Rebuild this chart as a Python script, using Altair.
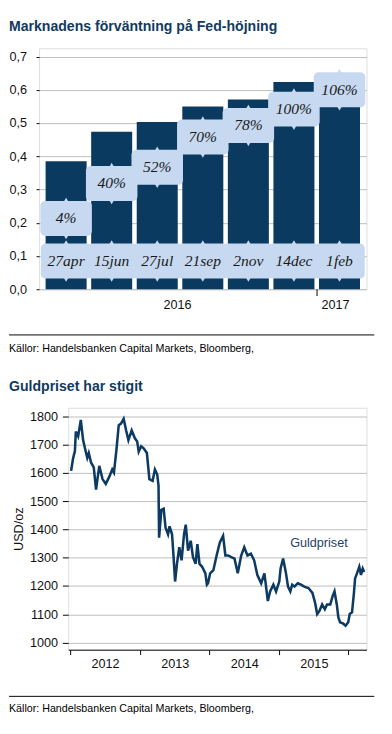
import altair as alt
import pandas as pd

# ---------------- data: Fed hike expectations ----------------
meetings = ["27apr", "15jun", "27jul", "21sep", "2nov", "14dec", "1feb"]
expected_rate = [0.385, 0.474, 0.503, 0.550, 0.571, 0.624, 0.645]
hike_prob = ["4%", "40%", "52%", "70%", "78%", "100%", "106%"]
prob_label_level = [0.213, 0.318, 0.367, 0.458, 0.493, 0.542, 0.600]
date_label_level = 0.085
rate_ticks = [0.0, 0.1, 0.2, 0.3, 0.4, 0.5, 0.6, 0.7]
rate_domain = [0.0, 0.725]

# ---------------- data: gold price ----------------
gold_dates = [
    "2012-01-06", "2012-01-16", "2012-01-26", "2012-01-31", "2012-02-12", "2012-02-26",
    "2012-03-09", "2012-03-21", "2012-03-31", "2012-04-08", "2012-04-20", "2012-05-04",
    "2012-05-16", "2012-06-02", "2012-06-19", "2012-07-06", "2012-07-23", "2012-08-09",
    "2012-08-18", "2012-08-31", "2012-09-12", "2012-09-24", "2012-10-08", "2012-10-21",
    "2012-11-02", "2012-11-19", "2012-12-06", "2012-12-18", "2012-12-26", "2013-01-08",
    "2013-01-21", "2013-02-07", "2013-02-20", "2013-03-09", "2013-03-21", "2013-04-02",
    "2013-04-09", "2013-04-12", "2013-04-24", "2013-05-06", "2013-05-16", "2013-05-29",
    "2013-06-06", "2013-06-19", "2013-06-26", "2013-07-05", "2013-07-15", "2013-07-27",
    "2013-08-08", "2013-08-21", "2013-08-30", "2013-09-11", "2013-09-25", "2013-10-07",
    "2013-10-21", "2013-10-30", "2013-11-10", "2013-11-24", "2013-12-11", "2013-12-19",
    "2013-12-25", "2014-01-05", "2014-01-22", "2014-02-08", "2014-02-25", "2014-03-14",
    "2014-03-26", "2014-04-09", "2014-04-26", "2014-05-13", "2014-05-30", "2014-06-17",
    "2014-07-03", "2014-07-20", "2014-08-07", "2014-08-24", "2014-09-10", "2014-09-30",
    "2014-10-17", "2014-11-04", "2014-11-16", "2014-12-03", "2014-12-17", "2015-01-03",
    "2015-01-10", "2015-01-23", "2015-02-06", "2015-02-18", "2015-03-02", "2015-03-12",
    "2015-03-24", "2015-04-10", "2015-04-27", "2015-05-14", "2015-06-05", "2015-06-26",
    "2015-07-10", "2015-07-21", "2015-08-02", "2015-08-16", "2015-08-30", "2015-09-11",
    "2015-09-28", "2015-10-10", "2015-10-20", "2015-11-01", "2015-11-09", "2015-11-18",
    "2015-12-05", "2015-12-17", "2015-12-31", "2016-01-08", "2016-01-20", "2016-01-30",
    "2016-02-05", "2016-02-15", "2016-02-27", "2016-03-07", "2016-03-16", "2016-03-24",
]
gold_price = [
    1607, 1650, 1677, 1746, 1729, 1787,
    1716, 1681, 1653, 1670, 1636, 1619,
    1541, 1625, 1578, 1561, 1584, 1612,
    1601, 1681, 1768, 1774, 1791, 1750,
    1716, 1750, 1722, 1711, 1675, 1694,
    1687, 1670, 1578, 1572, 1612, 1595,
    1555, 1371, 1469, 1473, 1406, 1383,
    1411, 1383, 1314, 1216, 1279, 1337,
    1291, 1383, 1417, 1325, 1360, 1302,
    1279, 1348, 1279, 1268, 1245, 1205,
    1210, 1245, 1256, 1308, 1354, 1377,
    1308, 1308, 1302, 1297, 1245, 1308,
    1337, 1308, 1314, 1291, 1239, 1210,
    1245, 1147, 1181, 1205, 1181, 1216,
    1262, 1297, 1250, 1198, 1181, 1205,
    1198, 1210, 1205, 1198, 1193, 1176,
    1141, 1101, 1112, 1135, 1118, 1135,
    1135, 1164, 1181, 1135, 1090, 1072,
    1067, 1060, 1072, 1101, 1107, 1176,
    1227, 1245, 1268, 1239, 1262, 1250,
]
gold_ticks = [1000, 1100, 1200, 1300, 1400, 1500, 1600, 1700, 1800]
gold_domain = [975, 1830]
gold_years = [2012, 2013, 2014, 2015, 2016]

title1 = "Marknadens förväntning på Fed-höjning"
title2 = "Guldpriset har stigit"
source = "Källor: Handelsbanken Capital Markets, Bloomberg,"
series_name = "Guldpriset"

# ---------------- styles ----------------
NAVY = "#0b3a60"
BOX = "#c6d9f1"
TITLE_C = "#123a5f"
GRID = "#bdbdbd"
SANS = "Liberation Sans"
SERIF = "Liberation Serif"

W1, H1 = 337, 248
W2, H2 = 307, 249

bar_df = pd.DataFrame({
    "meeting": meetings,
    "rate": expected_rate,
    "prob": hike_prob,
    "plev": prob_label_level,
})
one = pd.DataFrame({"k": [0]})


def band_x(field, band_pos=None):
    kw = {}
    if band_pos is not None:
        kw["bandPosition"] = band_pos
    return alt.X(f"{field}:N", sort=meetings,
                 scale=alt.Scale(paddingInner=0.1, paddingOuter=0.143), axis=None, **kw)


xband = band_x("meeting")
yscale1 = alt.Scale(domain=rate_domain, nice=False)


def rate_axis():
    return alt.Axis(values=rate_ticks,
                    labelExpr="replace(format(datum.value, '.1f'), '.', ',')",
                    labelOverlap=False, labelFlush=False,
                    tickSize=3, labelPadding=10, grid=True, gridColor=GRID,
                    domain=False, labelFontSize=13, labelColor="#111",
                    labelFont=SANS, tickColor="#000", title=None)


def yq(field):
    return alt.Y(f"{field}:Q", scale=yscale1, axis=rate_axis(), title=None)


def ydatum():
    return alt.Y(datum=date_label_level, scale=yscale1, axis=rate_axis(), title=None)


base1 = alt.Chart(bar_df)

bars = base1.mark_bar(color=NAVY).encode(x=xband, y=yq("rate"))

prob_box = base1.mark_rect(width=53, height=36, cornerRadius=5, color=BOX).encode(
    x=xband, y=yq("plev"))
prob_tri_up = base1.mark_point(shape="triangle-up", filled=True, size=30, color=BOX, opacity=1).encode(
    x=xband, y=yq("plev"), yOffset=alt.value(-19))
prob_tri_dn = base1.mark_point(shape="triangle-down", filled=True, size=30, color=BOX, opacity=1).encode(
    x=xband, y=yq("plev"), yOffset=alt.value(19))
prob_text = base1.mark_text(font=SERIF, fontStyle="italic", fontSize=16, color="#1a1a1a").encode(
    x=xband, y=yq("plev"), text="prob:N")

date_box = base1.mark_rect(width=52, height=36, cornerRadius=5, color=BOX).encode(
    x=xband, y=ydatum())
date_tri_up = base1.mark_point(shape="triangle-up", filled=True, size=30, color=BOX, opacity=1).encode(
    x=xband, y=ydatum(), yOffset=alt.value(-19))
date_tri_dn = base1.mark_point(shape="triangle-down", filled=True, size=30, color=BOX, opacity=1).encode(
    x=xband, y=ydatum(), yOffset=alt.value(19))
date_text = base1.mark_text(font=SERIF, fontStyle="italic", fontSize=16, color="#1a1a1a").encode(
    x=xband, y=ydatum(), text="meeting:N")

yr2016 = alt.Chart(pd.DataFrame({"meeting": ["21sep"], "t": ["2016"]})).mark_text(
    font=SANS, fontSize=13, color="#111", dx=-5).encode(
    x=band_x("meeting", 0), y=alt.value(H1 + 16), text="t:N")
yr2017 = alt.Chart(pd.DataFrame({"meeting": ["1feb"], "t": ["2017"]})).mark_text(
    font=SANS, fontSize=13, color="#111", dx=-4).encode(
    x=xband, y=alt.value(H1 + 16), text="t:N")
yr_tick = alt.Chart(pd.DataFrame({"meeting": ["1feb"]})).mark_rule(color="#000").encode(
    x=band_x("meeting", 0), xOffset=alt.value(-2), y=alt.value(H1), y2=alt.value(H1 + 7))

t1 = alt.Chart(one).mark_text(font=SANS, fontSize=14.5, fontWeight="bold", color=TITLE_C,
                              align="left", baseline="alphabetic").encode(
    x=alt.value(-31), y=alt.value(-18), text=alt.value(title1))
sep1 = alt.Chart(one).mark_rule(color="#000", strokeWidth=1).encode(
    x=alt.value(-31), x2=alt.value(345), y=alt.value(295))
src1 = alt.Chart(one).mark_text(font=SANS, fontSize=11, color="#000",
                                align="left", baseline="middle").encode(
    x=alt.value(-31), y=alt.value(310), text=alt.value(source))

top = alt.layer(bars, prob_box, prob_tri_up, prob_tri_dn, prob_text,
                date_box, date_tri_up, date_tri_dn, date_text,
                yr2016, yr2017, yr_tick, t1, sep1, src1).properties(width=W1, height=H1)

# ---------------- gold chart ----------------
gold_df = pd.DataFrame({"date": gold_dates, "price": gold_price})

gold_line = alt.Chart(gold_df).mark_line(color="#0c3a63", strokeWidth=2.6).encode(
    x=alt.X("date:T", title=None,
            scale=alt.Scale(domain=[alt.DateTime(year=2011, month=12, date=22),
                                    alt.DateTime(year=2016, month=4, date=5)]),
            axis=alt.Axis(values=[alt.DateTime(year=y, month=1, date=1) for y in gold_years],
                          labelExpr="year(datum.value) < 2016 ? timeFormat(datum.value, '%Y') : ''",
                          labelOffset=36, labelFlush=False, labelOverlap=False,
                          tickSize=5, labelPadding=3, grid=False, domainColor="#000",
                          tickColor="#000", labelFontSize=13, labelColor="#111", labelFont=SANS)),
    y=alt.Y("price:Q", title="USD/oz", scale=alt.Scale(domain=gold_domain, nice=False),
            axis=alt.Axis(values=gold_ticks, format="d", tickSize=6, labelPadding=5, grid=True,
                          labelOverlap=False, labelFlush=False,
                          gridColor=GRID, domain=False, tickColor="#000",
                          labelFontSize=13, labelColor="#111", labelFont=SANS,
                          titleFont=SANS, titleFontSize=13, titleFontWeight="normal",
                          titleColor="#111", titlePadding=4)),
)
gold_lab = alt.Chart(one).mark_text(font=SANS, fontSize=13, color="#1f3f66",
                                    align="center", baseline="middle").encode(
    x=alt.value(258), y=alt.value(139), text=alt.value(series_name))
t2 = alt.Chart(one).mark_text(font=SANS, fontSize=14.5, fontWeight="bold", color=TITLE_C,
                              align="left", baseline="alphabetic").encode(
    x=alt.value(-61), y=alt.value(-17), text=alt.value(title2))
sep2 = alt.Chart(one).mark_rule(color="#000", strokeWidth=1).encode(
    x=alt.value(-61), x2=alt.value(315), y=alt.value(297))
src2 = alt.Chart(one).mark_text(font=SANS, fontSize=11, color="#000",
                                align="left", baseline="middle").encode(
    x=alt.value(-61), y=alt.value(310), text=alt.value(source))

gold = alt.layer(gold_line, gold_lab, t2, sep2, src2).properties(width=W2, height=H2)

spacer = alt.Chart(one).mark_text().encode(text=alt.value("")).properties(
    width=30, height=H2, view=alt.ViewBackground(stroke="transparent"))

bottom = alt.hconcat(spacer, gold, spacing=0, bounds="flush")

chart = alt.vconcat(top, bottom, spacing=122, bounds="flush").properties(
    padding=0
).configure_view(stroke="#000", strokeWidth=1).configure(background="white")

chart.save("out.html", embed_options={"renderer": "svg", "actions": False})
